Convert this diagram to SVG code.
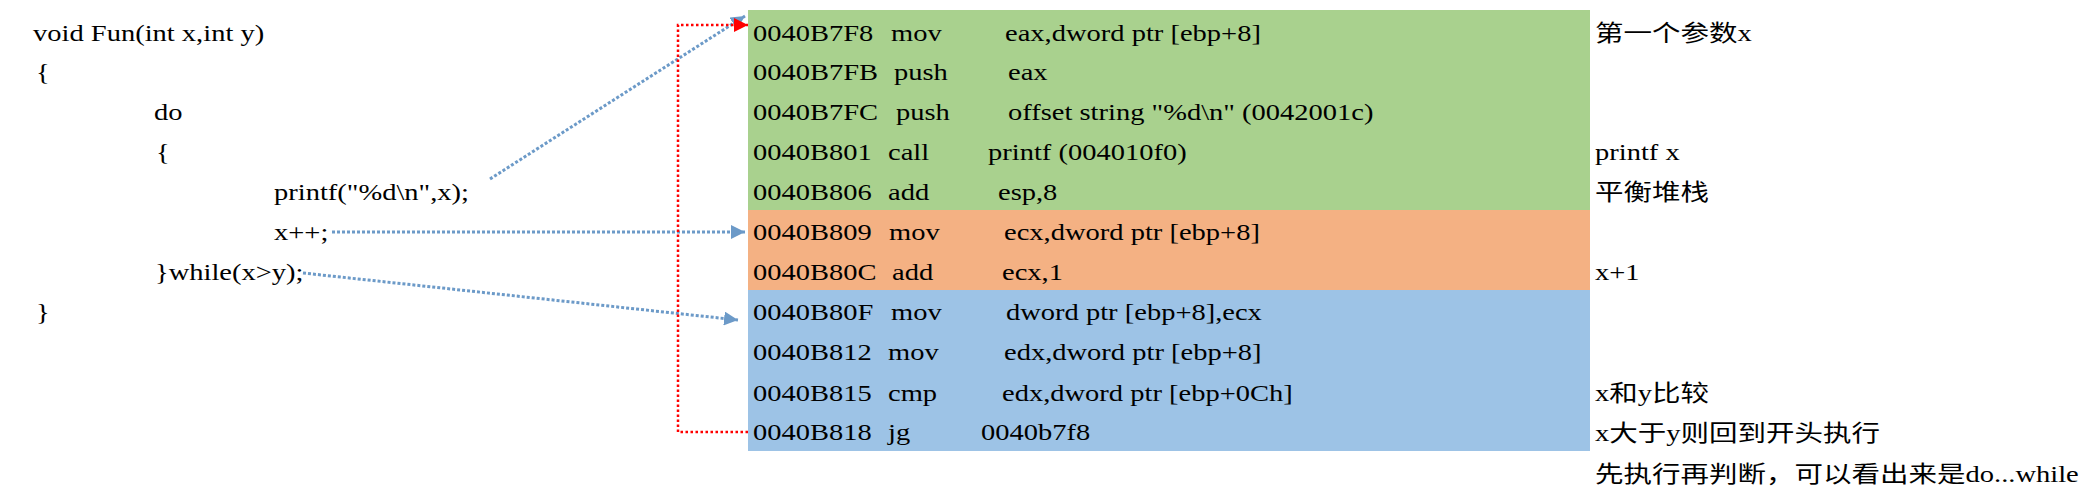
<svg xmlns="http://www.w3.org/2000/svg" width="2094" height="504" viewBox="0 0 2094 504">
<defs>
<style>
.t{font-family:"Liberation Serif","Noto Sans CJK SC",serif;font-size:23px;fill:#000}
.blue{fill:none;stroke:#6C9AC8;stroke-width:3;stroke-dasharray:3 2}
.red{fill:none;stroke:#FF0000;stroke-width:2.5;stroke-dasharray:2.5 2.5}
.g{fill:#A9D18E}.o{fill:#F4B183}.b{fill:#9DC3E6}
</style>
<marker id="ab" markerUnits="userSpaceOnUse" viewBox="0 0 14 14" markerWidth="14" markerHeight="14" refX="14" refY="7" orient="auto"><path d="M0,0 L14,7 L0,14 Z" fill="#6C9AC8"/></marker>
<marker id="ar" markerUnits="userSpaceOnUse" viewBox="0 0 14 14" markerWidth="14" markerHeight="14" refX="14" refY="7" orient="auto"><path d="M0,0 L14,7 L0,14 Z" fill="#FF0000"/></marker>
</defs>
<rect width="2094" height="504" fill="#fff"/>

<g id="source-code">
<text class="t" transform="translate(33 41) scale(1.24 1)">void Fun(int x,int y)</text>
<text class="t" transform="translate(36 80) scale(1.24 1)">{</text>
<text class="t" transform="translate(154 120) scale(1.24 1)">do</text>
<text class="t" transform="translate(156 160) scale(1.24 1)">{</text>
<text class="t" transform="translate(274 200) scale(1.24 1)">printf("%d\n",x);</text>
<text class="t" transform="translate(274 240) scale(1.24 1)">x++;</text>
<text class="t" transform="translate(155 280) scale(1.24 1)">}while(x&gt;y);</text>
<text class="t" transform="translate(36 320) scale(1.24 1)">}</text>
</g>

<g id="block-printf">
<rect class="g" x="748" y="10" width="842" height="200"/>
<text class="t" transform="translate(753 41) scale(1.24 1)">0040B7F8</text>
<text class="t" transform="translate(891 41) scale(1.24 1)">mov</text>
<text class="t" transform="translate(1005 41) scale(1.24 1)">eax,dword ptr [ebp+8]</text>
<text class="t" transform="translate(753 80) scale(1.24 1)">0040B7FB</text>
<text class="t" transform="translate(894 80) scale(1.24 1)">push</text>
<text class="t" transform="translate(1008 80) scale(1.24 1)">eax</text>
<text class="t" transform="translate(753 120) scale(1.24 1)">0040B7FC</text>
<text class="t" transform="translate(896 120) scale(1.24 1)">push</text>
<text class="t" transform="translate(1008 120) scale(1.24 1)">offset string "%d\n" (0042001c)</text>
<text class="t" transform="translate(753 160) scale(1.24 1)">0040B801</text>
<text class="t" transform="translate(888 160) scale(1.24 1)">call</text>
<text class="t" transform="translate(988 160) scale(1.24 1)">printf (004010f0)</text>
<text class="t" transform="translate(753 200) scale(1.24 1)">0040B806</text>
<text class="t" transform="translate(888 200) scale(1.24 1)">add</text>
<text class="t" transform="translate(998 200) scale(1.24 1)">esp,8</text>
</g>

<g id="block-increment">
<rect class="o" x="748" y="210" width="842" height="80"/>
<text class="t" transform="translate(753 240) scale(1.24 1)">0040B809</text>
<text class="t" transform="translate(889 240) scale(1.24 1)">mov</text>
<text class="t" transform="translate(1004 240) scale(1.24 1)">ecx,dword ptr [ebp+8]</text>
<text class="t" transform="translate(753 280) scale(1.24 1)">0040B80C</text>
<text class="t" transform="translate(892 280) scale(1.24 1)">add</text>
<text class="t" transform="translate(1002 280) scale(1.24 1)">ecx,1</text>
</g>

<g id="block-compare">
<rect class="b" x="748" y="290" width="842" height="161"/>
<text class="t" transform="translate(753 320) scale(1.24 1)">0040B80F</text>
<text class="t" transform="translate(891 320) scale(1.24 1)">mov</text>
<text class="t" transform="translate(1006 320) scale(1.24 1)">dword ptr [ebp+8],ecx</text>
<text class="t" transform="translate(753 360) scale(1.24 1)">0040B812</text>
<text class="t" transform="translate(888 360) scale(1.24 1)">mov</text>
<text class="t" transform="translate(1004 360) scale(1.24 1)">edx,dword ptr [ebp+8]</text>
<text class="t" transform="translate(753 401) scale(1.24 1)">0040B815</text>
<text class="t" transform="translate(888 401) scale(1.24 1)">cmp</text>
<text class="t" transform="translate(1002 401) scale(1.24 1)">edx,dword ptr [ebp+0Ch]</text>
<text class="t" transform="translate(753 440) scale(1.24 1)">0040B818</text>
<text class="t" transform="translate(888 440) scale(1.24 1)">jg</text>
<text class="t" transform="translate(981 440) scale(1.24 1)">0040b7f8</text>
</g>

<g id="comments">
<text class="t" transform="translate(1595 41) scale(1.24 1)">第一个参数x</text>
<text class="t" transform="translate(1595 160) scale(1.24 1)">printf x</text>
<text class="t" transform="translate(1595 200) scale(1.24 1)">平衡堆栈</text>
<text class="t" transform="translate(1595 280) scale(1.24 1)">x+1</text>
<text class="t" transform="translate(1595 401) scale(1.24 1)">x和y比较</text>
<text class="t" transform="translate(1595 441) scale(1.24 1)">x大于y则回到开头执行</text>
<text class="t" transform="translate(1595 482) scale(1.24 1)">先执行再判断，可以看出来是do...while</text>
</g>

<g id="connectors">
<path class="blue" d="M490,179 L745,16" marker-end="url(#ab)"/>
<path class="blue" d="M332,232 H745" marker-end="url(#ab)"/>
<path class="blue" d="M303,273 L738,320" marker-end="url(#ab)"/>
<path class="red" d="M748,432 H678 V25 H748" marker-end="url(#ar)"/>
</g>
</svg>
